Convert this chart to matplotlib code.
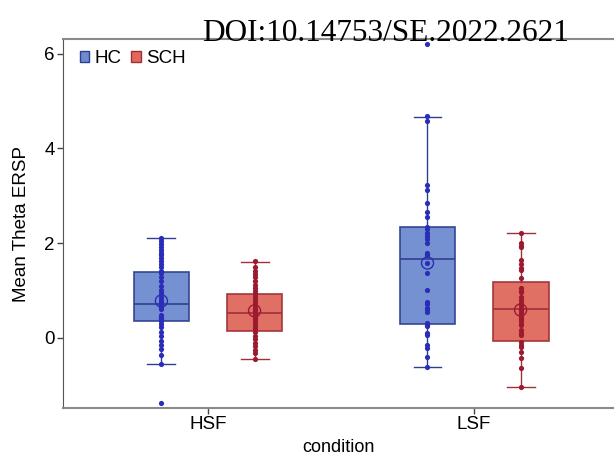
import matplotlib
matplotlib.use("Agg")
import matplotlib.pyplot as plt
from matplotlib.patches import Patch
import numpy as np

conditions = ["HSF", "LSF"]
groups = ["HC", "SCH"]

hc_hsf = [2.11, 2.05, 1.98, 1.92, 1.85, 1.8, 1.74, 1.68, 1.62, 1.55, 1.5, 1.42, 1.36,
          1.28, 1.2, 1.1, 1.02, 0.95, 0.86, 0.8, 0.76, 0.72, 0.66, 0.6, 0.48, 0.44,
          0.42, 0.40, 0.36, 0.3, 0.22, 0.12, 0.04, -0.06, -0.15, -0.24, -0.36, -0.55, -1.37]
sch_hsf = [1.62, 1.5, 1.42, 1.35, 1.28, 1.2, 1.12, 1.05, 0.98, 0.92, 0.86, 0.8, 0.75,
           0.7, 0.64, 0.6, 0.57, 0.54, 0.5, 0.47, 0.44, 0.4, 0.35, 0.3, 0.24, 0.18,
           0.12, 0.05, -0.02, -0.1, -0.18, -0.25, -0.32, -0.44]
hc_lsf = [6.21, 4.69, 4.58, 3.23, 3.13, 2.85, 2.66, 2.56, 2.35, 2.3, 2.22, 2.15, 2.08,
          2.0, 1.8, 1.76, 1.58, 1.37, 1.01, 0.76, 0.72, 0.63, 0.58, 0.55, 0.32, 0.28,
          0.25, 0.1, 0.06, -0.15, -0.21, -0.4, -0.61]
sch_lsf = [2.22, 2.0, 1.95, 1.92, 1.65, 1.55, 1.48, 1.44, 1.27, 1.06, 1.0, 0.97, 0.87,
           0.8, 0.74, 0.7, 0.63, 0.58, 0.54, 0.5, 0.45, 0.4, 0.35, 0.3, 0.27, 0.17,
           0.1, 0.06, -0.08, -0.14, -0.2, -0.3, -0.42, -0.63, -1.04]

# box statistics: HC-HSF, SCH-HSF, HC-LSF, SCH-LSF
box_whislo = [-0.55, -0.44, -0.62, -1.04]
box_q1 = [0.36, 0.15, 0.30, -0.06]
box_med = [0.72, 0.53, 1.67, 0.61]
box_q3 = [1.39, 0.93, 2.34, 1.18]
box_whishi = [2.11, 1.61, 4.67, 2.22]
box_mean = [0.78, 0.57, 1.58, 0.59]

points = [hc_hsf, sch_hsf, hc_lsf, sch_lsf]

fill_cols = {"HC": "#6f8bd0", "SCH": "#e0685c"}
edge_cols = {"HC": "#2e3f8f", "SCH": "#a03038"}
pt_cols = {"HC": "#2a2db8", "SCH": "#9c1a30"}

plt.rcParams['font.family'] = ['Liberation Sans', 'DejaVu Sans']
fig = plt.figure(figsize=(6.14, 4.55), dpi=100)
ax = fig.add_axes([63/614, 1 - 408/455, 1 - 63/614, (408 - 39)/455])

offset = 0.175
width = 0.21
idx = 0
for ci, cond in enumerate(conditions):
    for gi, g in enumerate(groups):
        pos = ci + (-offset if gi == 0 else offset)
        st = dict(whislo=box_whislo[idx], q1=box_q1[idx], med=box_med[idx],
                  q3=box_q3[idx], whishi=box_whishi[idx], mean=box_mean[idx], fliers=[])
        ax.bxp([st], positions=[pos], widths=width, patch_artist=True,
               showmeans=False, showfliers=False,
               boxprops=dict(facecolor=fill_cols[g], edgecolor=edge_cols[g], linewidth=1.2, alpha=0.95),
               medianprops=dict(color=edge_cols[g], linewidth=1.2),
               whiskerprops=dict(color=edge_cols[g], linewidth=1.0),
               capprops=dict(color=edge_cols[g], linewidth=1.0),
               capwidths=width * 0.5, zorder=2)
        ys = np.array(points[idx])
        ax.scatter(np.full(len(ys), pos), ys, s=14, color=pt_cols[g], zorder=3, linewidths=0)
        ax.scatter([pos], [box_mean[idx]], s=75, facecolors='none', edgecolors=pt_cols[g],
                   linewidths=1.0, zorder=4)
        idx += 1

ax.set_xlim(-0.545, 1.526)
ax.set_ylim(-1.48, 6.31)
ax.set_xticks([0, 1])
ax.set_xticklabels(conditions, fontsize=13.5)
ax.set_yticks([0, 2, 4, 6])
ax.set_yticklabels(["0", "2", "4", "6"], fontsize=13.5)
ax.tick_params(axis='both', length=4, width=1, color='#444444', pad=2)
ax.set_xlabel("condition", fontsize=13, labelpad=4)
ax.set_ylabel("Mean Theta ERSP", fontsize=13.5, labelpad=10)
ax.spines["left"].set_color('#555555')
for s in ["bottom", "top"]:
    ax.spines[s].set_color('#8a8a8a')
    ax.spines[s].set_linewidth(1.5)
ax.spines["right"].set_visible(False)

handles = [Patch(facecolor=fill_cols[g], edgecolor=edge_cols[g], label=g) for g in groups]
ax.legend(handles=handles, loc='upper left', ncol=2, frameon=False, fontsize=13.5,
          handlelength=0.5, handleheight=0.55, handletextpad=0.3, columnspacing=0.5,
          borderaxespad=0.2, bbox_to_anchor=(0.01, 1.0))

fig.text(386/614, 1 - 41/455, "DOI:10.14753/SE.2022.2621", fontsize=22.5,
         family=['Liberation Serif', 'DejaVu Serif'], ha='center', va='baseline')

fig.savefig("out.png", dpi=100)
